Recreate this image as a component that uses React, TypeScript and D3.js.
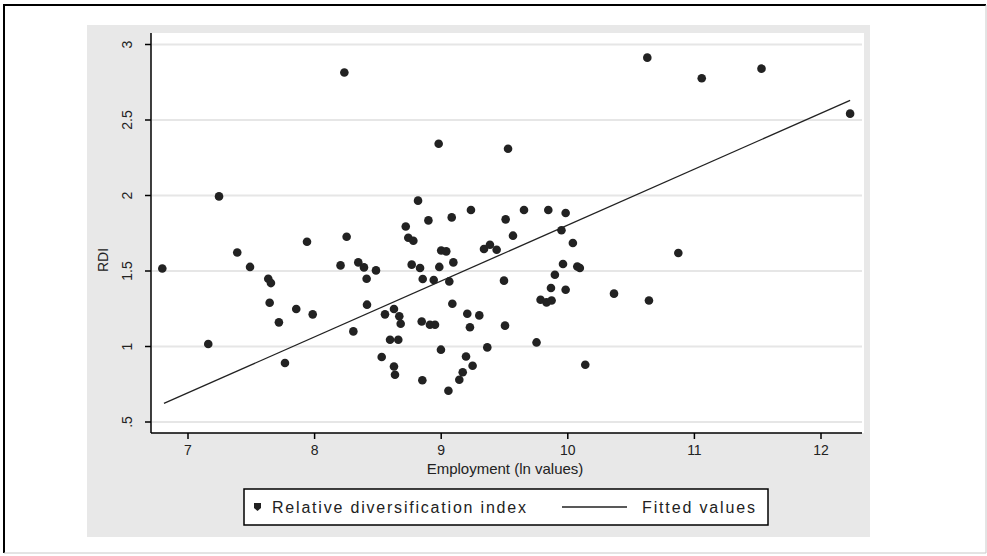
import React from 'react';
import * as d3 from 'd3';

// employment (ln) and RDI
const empl = [
  8.235, 7.245, 10.628, 8.98, 9.528, 8.817, 8.899, 8.72, 9.083, 9.235,
  9.509, 9.654, 9.846, 9.983, 9.95, 11.058, 11.53, 12.23, 6.797, 7.16,
  7.389, 7.49, 7.634, 7.655, 7.645, 7.718, 7.855, 7.985, 7.94, 7.766,
  8.253, 8.205, 8.345, 8.39, 8.485, 8.411, 8.414, 8.306, 8.556, 8.53,
  8.74, 8.78, 9.567, 10.04, 9.0, 9.04, 9.338, 9.385, 9.438, 10.873,
  8.767, 8.833, 8.985, 9.096, 8.854, 8.941, 9.064, 9.496, 9.962, 10.075,
  10.095, 9.898, 9.867, 9.983, 9.785, 9.832, 9.872, 10.365, 10.641, 9.088,
  8.627, 8.669, 8.68, 8.846, 8.911, 8.951, 9.206, 9.301, 9.227, 9.504,
  8.596, 8.661, 8.998, 9.364, 9.753, 9.196, 9.248, 8.627, 8.635, 9.17,
  9.143, 8.851, 9.057, 10.138
];
const rdi = [
  2.815, 1.994, 2.913, 2.343, 2.31, 1.966, 1.835, 1.795, 1.855, 1.904,
  1.842, 1.904, 1.904, 1.884, 1.77, 2.776, 2.84, 2.542, 1.517, 1.017,
  1.623, 1.527, 1.449, 1.42, 1.29, 1.16, 1.248, 1.213, 1.694, 0.891,
  1.727, 1.537, 1.557, 1.524, 1.504, 1.449, 1.277, 1.1, 1.213, 0.93,
  1.72, 1.70, 1.734, 1.685, 1.636, 1.63, 1.646, 1.674, 1.641, 1.619,
  1.542, 1.52, 1.527, 1.557, 1.447, 1.44, 1.431, 1.436, 1.546, 1.53,
  1.52, 1.475, 1.387, 1.376, 1.31, 1.292, 1.305, 1.35, 1.305, 1.283,
  1.248, 1.2, 1.151, 1.166, 1.144, 1.144, 1.217, 1.206, 1.127, 1.138,
  1.045, 1.045, 0.979, 0.994, 1.027, 0.934, 0.873, 0.868, 0.813, 0.829,
  0.78, 0.776, 0.707, 0.879
];
// fitted line endpoints
const fitX = [6.81, 12.23];
const fitY = [0.623, 2.63];

const xTicks = [7, 8, 9, 10, 11, 12];
const yTicks = [0.5, 1, 1.5, 2, 2.5, 3];
const yTickLabels = ['.5', '1', '1.5', '2', '2.5', '3'];

const font = 'Arial, "Liberation Sans", sans-serif';

export default function App() {
  const x = d3.scaleLinear().domain([7, 12]).range([188, 821]);
  const y = d3.scaleLinear().domain([0.5, 3]).range([422, 44.5]);

  const line = d3.line<number>()
    .x((d, i) => x(fitX[i]))
    .y(d => y(d));

  return (
    <svg width={987} height={556} style={{position: 'absolute', left: 0, top: 0}}
      fontFamily={font}>
      <rect x={0} y={0} width={987} height={556} fill='white'/>
      {/* outer frame */}
      <line x1={4} y1={5} x2={986} y2={5} stroke='black' strokeWidth={2}/>
      <line x1={4} y1={4} x2={4} y2={553} stroke='black' strokeWidth={2}/>
      <line x1={986} y1={5} x2={986} y2={553} stroke='#c8c8c8' strokeWidth={1}/>
      <line x1={4} y1={553} x2={986} y2={553} stroke='#c8c8c8' strokeWidth={1}/>

      {/* graph region */}
      <rect x={87} y={25} width={783} height={512} fill='#e8e8e8'/>
      <rect x={151} y={33} width={713} height={400} fill='white'/>

      {yTicks.map(t => (
        <line key={'g' + t} x1={152} x2={862} y1={y(t)} y2={y(t)} stroke='#e6e6e6' strokeWidth={2}/>
      ))}

      {/* axes */}
      <line x1={151} x2={151} y1={33} y2={433} stroke='black' strokeWidth={1.5}/>
      <line x1={151} x2={862} y1={433} y2={433} stroke='black' strokeWidth={1.5}/>
      {yTicks.map((t, i) => (
        <g key={'y' + t}>
          <line x1={145} x2={151} y1={y(t)} y2={y(t)} stroke='black' strokeWidth={1.5}/>
          <text transform={`translate(132,${y(t)}) rotate(-90)`} textAnchor='middle'
            fontSize={14} fill='#222'>{yTickLabels[i]}</text>
        </g>
      ))}
      {xTicks.map(t => (
        <g key={'x' + t}>
          <line x1={x(t)} x2={x(t)} y1={433} y2={439} stroke='black' strokeWidth={1.5}/>
          <text x={x(t)} y={455} textAnchor='middle' fontSize={14} fill='#222'>{t}</text>
        </g>
      ))}
      <text transform='translate(108,260) rotate(-90)' textAnchor='middle' fontSize={14} fill='#222'>RDI</text>
      <text x={505} y={474} textAnchor='middle' fontSize={15} fill='#222'>Employment (ln values)</text>

      {/* data */}
      {empl.map((e, i) => (
        <circle key={i} cx={x(e)} cy={y(rdi[i])} r={4.3} fill='#222'/>
      ))}
      <path d={line(fitY) || ''} fill='none' stroke='#222' strokeWidth={1.3}/>

      {/* legend */}
      <rect x={244} y={489} width={524} height={36} fill='white' stroke='black' strokeWidth={1.5}/>
      <path d='M254,503 h7 v5 l-3.5,3 l-3.5,-3 z' fill='#222'/>
      <text x={272} y={513} fontSize={16} fill='#222' textLength={254}>Relative diversification index</text>
      <line x1={562} x2={627} y1={507} y2={507} stroke='#222' strokeWidth={1.3}/>
      <text x={642} y={513} fontSize={16} fill='#222' textLength={113}>Fitted values</text>
    </svg>
  );
}
